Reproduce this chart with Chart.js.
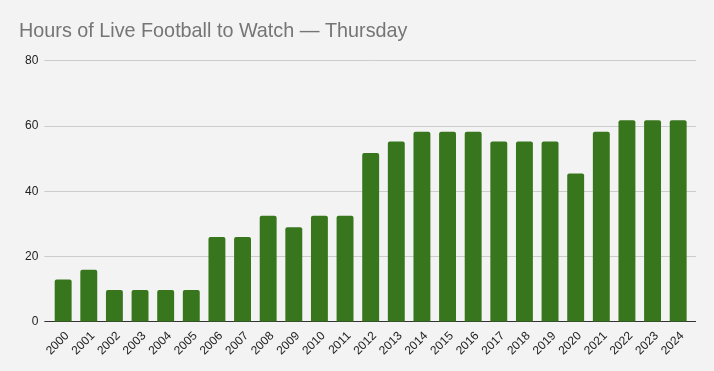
<!DOCTYPE html>
<html>
<head>
<meta charset="utf-8">
<script src="https://cdn.jsdelivr.net/npm/chart.js@4"></script>
<style>
  html, body { margin: 0; padding: 0; background: #f3f3f3; }
  #wrap { width: 714px; height: 371px; }
</style>
</head>
<body>
<div id="wrap"><canvas id="myChart"></canvas></div>
<script>
const years = ['2000', '2001', '2002', '2003', '2004', '2005', '2006', '2007', '2008', '2009',
    '2010', '2011', '2012', '2013', '2014', '2015', '2016', '2017', '2018', '2019',
    '2020', '2021', '2022', '2023', '2024'];
const hours = [13, 16, 9.75, 9.75, 9.75, 9.75, 26, 26, 32.5, 29,
    32.5, 32.5, 51.75, 55.25, 58.25, 58.25, 58.25, 55.25, 55.25, 55.25,
    45.5, 58.25, 61.75, 61.75, 61.75];
const yTicks = [0, 20, 40, 60, 80];

const fontFamily = 'Arial, "Liberation Sans", sans-serif';
const gridColor = (c) => c.tick && c.tick.value === 0 ? '#333333' : '#cccccc';
const setTicks = (axis) => { axis.ticks = yTicks.map(v => ({ value: v })); };

const ctx = document.getElementById('myChart').getContext('2d');

const chart = new Chart(ctx, {
    type: 'bar',
    data: {
        labels: years,
        datasets: [{
            label: 'Hours',
            data: hours,
            backgroundColor: '#38761d',
            borderRadius: { topLeft: 2, topRight: 2 },
            borderSkipped: 'bottom',
            barPercentage: 0.66,
            categoryPercentage: 1,
        }]
    },
    options: {
        responsive: true,
        maintainAspectRatio: false,
        animation: false,
        layout: { padding: { left: 19, right: 18, top: 4, bottom: 14 } },
        plugins: {
            legend: { display: false },
            tooltip: { enabled: false },
            title: {
                display: true,
                text: 'Hours of Live Football to Watch \u2014 Thursday',
                align: 'start',
                color: '#757575',
                font: { family: fontFamily, size: 19.8, weight: 'normal' },
                padding: { top: 16, bottom: 17 },
            },
        },
        scales: {
            x: {
                grid: { display: false },
                border: { color: '#333333' },
                ticks: {
                    color: '#222222',
                    font: { family: fontFamily, size: 12 },
                    minRotation: 45,
                    maxRotation: 45,
                    padding: -1,
                    labelOffset: 4,
                },
            },
            y: {
                min: 0,
                max: 80,
                afterBuildTicks: setTicks,
                border: { display: false },
                grid: { color: gridColor, drawTicks: true, tickLength: 6 },
                ticks: {
                    color: '#222222',
                    font: { family: fontFamily, size: 12 },
                    padding: 6,
                },
            },
            // only there to carry the gridlines a few px past the last bar
            yRight: {
                position: 'right',
                min: 0,
                max: 80,
                afterBuildTicks: setTicks,
                border: { display: false },
                grid: { color: gridColor, drawOnChartArea: false, drawTicks: true, tickLength: 5 },
                ticks: { display: false },
            },
        },
    }
});
</script>
</body>
</html>
